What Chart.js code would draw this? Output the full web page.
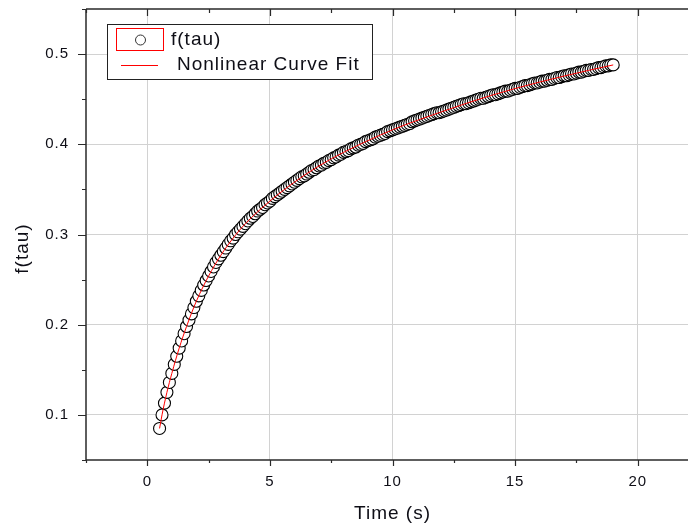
<!DOCTYPE html>
<html>
<head>
<meta charset="utf-8">
<script src="https://cdn.jsdelivr.net/npm/chart.js@4.4.1/dist/chart.umd.min.js"></script>
<style>
  html, body { margin: 0; padding: 0; background: #fff; }
  canvas { display: block; }
</style>
</head>
<body>
<canvas id="chart" width="688" height="527"></canvas>
<script>
const timeValues = [
  0.5, 0.6, 0.7, 0.8, 0.9, 1.0, 1.1, 1.2, 1.3, 1.4, 1.5, 1.6, 1.7, 1.8, 1.9,
  2.0, 2.1, 2.2, 2.3, 2.4, 2.5, 2.6, 2.7, 2.8, 2.9, 3.0, 3.1, 3.2, 3.3, 3.4,
  3.5, 3.6, 3.7, 3.8, 3.9, 4.0, 4.1, 4.2, 4.3, 4.4, 4.5, 4.6, 4.7, 4.8, 4.9,
  5.0, 5.1, 5.2, 5.3, 5.4, 5.5, 5.6, 5.7, 5.8, 5.9, 6.0, 6.1, 6.2, 6.3, 6.4,
  6.5, 6.6, 6.7, 6.8, 6.9, 7.0, 7.1, 7.2, 7.3, 7.4, 7.5, 7.6, 7.7, 7.8, 7.9,
  8.0, 8.1, 8.2, 8.3, 8.4, 8.5, 8.6, 8.7, 8.8, 8.9, 9.0, 9.1, 9.2, 9.3, 9.4,
  9.5, 9.6, 9.7, 9.8, 9.9, 10.0, 10.1, 10.2, 10.3, 10.4, 10.5, 10.6, 10.7, 10.8, 10.9,
  11.0, 11.1, 11.2, 11.3, 11.4, 11.5, 11.6, 11.7, 11.8, 11.9, 12.0, 12.1, 12.2, 12.3, 12.4,
  12.5, 12.6, 12.7, 12.8, 12.9, 13.0, 13.1, 13.2, 13.3, 13.4, 13.5, 13.6, 13.7, 13.8, 13.9,
  14.0, 14.1, 14.2, 14.3, 14.4, 14.5, 14.6, 14.7, 14.8, 14.9, 15.0, 15.1, 15.2, 15.3, 15.4,
  15.5, 15.6, 15.7, 15.8, 15.9, 16.0, 16.1, 16.2, 16.3, 16.4, 16.5, 16.6, 16.7, 16.8, 16.9,
  17.0, 17.1, 17.2, 17.3, 17.4, 17.5, 17.6, 17.7, 17.8, 17.9, 18.0, 18.1, 18.2, 18.3, 18.4,
  18.5, 18.6, 18.7, 18.8, 18.9, 19.0
];
const tauValues = [
  0.085, 0.100, 0.113, 0.125, 0.136, 0.146, 0.156, 0.165, 0.174, 0.182, 0.190, 0.198, 0.205, 0.212, 0.219,
  0.226, 0.232, 0.238, 0.244, 0.249, 0.254, 0.259, 0.264, 0.269, 0.273, 0.277, 0.281, 0.285, 0.289, 0.293,
  0.296, 0.300, 0.303, 0.306, 0.309, 0.312, 0.315, 0.318, 0.320, 0.323, 0.326, 0.328, 0.330, 0.333, 0.335,
  0.337, 0.340, 0.342, 0.344, 0.346, 0.348, 0.350, 0.352, 0.354, 0.356, 0.358, 0.360, 0.362, 0.364, 0.365,
  0.367, 0.369, 0.371, 0.372, 0.374, 0.376, 0.377, 0.379, 0.380, 0.382, 0.383, 0.385, 0.386, 0.388, 0.389,
  0.391, 0.392, 0.393, 0.395, 0.396, 0.397, 0.399, 0.400, 0.401, 0.403, 0.404, 0.405, 0.406, 0.408, 0.409,
  0.410, 0.411, 0.412, 0.414, 0.415, 0.416, 0.417, 0.418, 0.419, 0.420, 0.421, 0.422, 0.423, 0.425, 0.426,
  0.427, 0.428, 0.429, 0.430, 0.431, 0.432, 0.433, 0.434, 0.435, 0.435, 0.436, 0.437, 0.438, 0.439, 0.440,
  0.441, 0.442, 0.443, 0.444, 0.445, 0.445, 0.446, 0.447, 0.448, 0.449, 0.450, 0.451, 0.451, 0.452, 0.453,
  0.454, 0.455, 0.455, 0.456, 0.457, 0.458, 0.459, 0.459, 0.460, 0.461, 0.462, 0.462, 0.463, 0.464, 0.465,
  0.465, 0.466, 0.467, 0.468, 0.468, 0.469, 0.470, 0.470, 0.471, 0.472, 0.472, 0.473, 0.474, 0.474, 0.475,
  0.476, 0.476, 0.477, 0.478, 0.478, 0.479, 0.480, 0.480, 0.481, 0.482, 0.482, 0.483, 0.483, 0.484, 0.485,
  0.485, 0.486, 0.487, 0.487, 0.488, 0.488
];

// Nonlinear curve fit, sampled along the red line
const fitTime  = [0.5, 0.6, 0.8, 1.0, 1.3, 1.6, 2.0, 2.5, 3.0, 3.5, 4.0, 5.0, 6.0, 7.0, 8.0, 10.0, 12.0, 14.0, 16.0, 18.0, 19.0];
const fitValue = [0.085, 0.100, 0.125, 0.146, 0.174, 0.198, 0.226, 0.254, 0.277, 0.296, 0.312, 0.337, 0.358, 0.376, 0.391, 0.416, 0.436, 0.454, 0.469, 0.482, 0.488];

// Axis ticks
const xMajor = [0, 5, 10, 15, 20];
const xMinor = [-2.5, 2.5, 7.5, 12.5, 17.5];
const yMajor = [0.1, 0.2, 0.3, 0.4, 0.5];
const yMinor = [0.05, 0.15, 0.25, 0.35, 0.45, 0.55];

const FONT = "'Liberation Sans', Arial, sans-serif";
const TEXT = '#0e0e16';
const AXIS = '#2a2a2a';
const GRID = '#d2d2d2';
const FIT_RED = '#ff0000';

Chart.defaults.font.family = FONT;
Chart.defaults.color = TEXT;

// Without this Chart.js reserves room for half-labels at the ends of the axes
function noScalePadding(s) {
  s.paddingTop = 0; s.paddingBottom = 0;
  s.paddingLeft = 0; s.paddingRight = 0;
}

// Рамка осей, засечки, подписи осей и легенда в стиле Origin
const frame = {
  id: 'frame',
  beforeLayout(chart) { chart.ctx.letterSpacing = '1px'; },
  beforeDraw(chart) { chart.ctx.letterSpacing = '1px'; },
  afterDraw(chart) {
    const { ctx, chartArea: a, scales: { x, y } } = chart;
    ctx.save();
    ctx.letterSpacing = '1px';

    // axis lines
    ctx.strokeStyle = AXIS;
    ctx.lineWidth = 1.5;
    ctx.beginPath();
    ctx.moveTo(a.left, a.top); ctx.lineTo(a.right, a.top);
    ctx.moveTo(a.left, a.top); ctx.lineTo(a.left, a.bottom); ctx.lineTo(a.right, a.bottom);
    ctx.stroke();

    // tick marks
    ctx.lineWidth = 1.2;
    ctx.beginPath();
    const tickX = (vals, len, lenTop) => vals.forEach(v => {
      const px = Math.round(x.getPixelForValue(v)) + 0.5;
      if (px < a.left - 1 || px > a.right + 1) return;
      ctx.moveTo(px, a.bottom); ctx.lineTo(px, a.bottom + len);
      ctx.moveTo(px, a.top); ctx.lineTo(px, a.top + lenTop);
    });
    tickX(xMajor, 6, 7);
    tickX(xMinor, 3, 4);
    const tickY = (vals, len) => vals.forEach(v => {
      const py = Math.round(y.getPixelForValue(v)) + 0.5;
      ctx.moveTo(a.left, py); ctx.lineTo(a.left - len, py);
    });
    tickY(yMajor, 8);
    tickY(yMinor, 4);
    ctx.stroke();

    // axis titles
    ctx.fillStyle = TEXT;
    ctx.font = '19px ' + FONT;
    ctx.textAlign = 'center';
    ctx.textBaseline = 'middle';
    ctx.fillText('Time (s)', x.getPixelForValue(10), 514);
    ctx.save();
    ctx.translate(23, (a.top + a.bottom) / 2 + 14);
    ctx.rotate(-Math.PI / 2);
    ctx.fillText('f(tau)', 0, 0);
    ctx.restore();

    // legend
    ctx.fillStyle = '#fff';
    ctx.fillRect(107, 24, 266, 56);
    ctx.strokeStyle = '#222';
    ctx.lineWidth = 1;
    ctx.strokeRect(107.5, 24.5, 265, 55);

    ctx.strokeStyle = FIT_RED;
    ctx.strokeRect(116.5, 28.5, 47, 22);
    ctx.strokeStyle = '#333';
    ctx.beginPath();
    ctx.arc(140.5, 40, 5, 0, Math.PI * 2);
    ctx.stroke();

    ctx.strokeStyle = FIT_RED;
    ctx.beginPath();
    ctx.moveTo(121, 65.5); ctx.lineTo(158, 65.5);
    ctx.stroke();

    ctx.fillStyle = TEXT;
    ctx.textAlign = 'left';
    ctx.fillText('f(tau)', 171, 40);
    ctx.fillText('Nonlinear Curve Fit', 177, 65);
    ctx.restore();
  }
};

const points = timeValues.map((t, i) => ({ x: t, y: tauValues[i] }));
const fitPoints = fitTime.map((t, i) => ({ x: t, y: fitValue[i] }));

new Chart(document.getElementById('chart'), {
  type: 'scatter',
  data: {
    datasets: [
      {
        label: 'Nonlinear Curve Fit',
        type: 'line',
        data: fitPoints,
        borderColor: FIT_RED,
        borderWidth: 1,
        pointRadius: 0,
        cubicInterpolationMode: 'monotone',
        fill: false,
        order: 0,
      },
      {
        label: 'f(tau)',
        data: points,
        pointRadius: 6,
        pointBorderWidth: 1.1,
        pointBorderColor: '#000000',
        pointBackgroundColor: '#ffffff',
        order: 1,
      },
    ],
  },
  options: {
    responsive: false,
    animation: false,
    devicePixelRatio: 1,
    layout: { autoPadding: false, padding: { top: 9, left: 0, right: 0, bottom: 0 } },
    plugins: { legend: { display: false }, tooltip: { enabled: false } },
    scales: {
      x: {
        type: 'linear',
        min: -2.5,
        max: 22.05,
        afterBuildTicks: (s) => { s.ticks = xMajor.map(v => ({ value: v })); },
        afterFit: (s) => { s.height = 67; noScalePadding(s); },
        grid: { color: GRID, lineWidth: 1, drawTicks: false },
        border: { display: false },
        ticks: {
          padding: 13,
          color: TEXT,
          font: { size: 15 },
          maxRotation: 0,
          autoSkip: false,
          callback: (v) => String(v),
        },
      },
      y: {
        type: 'linear',
        min: 0.05,
        max: 0.55,
        afterBuildTicks: (s) => { s.ticks = yMajor.map(v => ({ value: v })); },
        afterFit: (s) => { s.width = 86; noScalePadding(s); },
        grid: { color: GRID, lineWidth: 1, drawTicks: false },
        border: { display: false },
        ticks: {
          padding: 17,
          color: TEXT,
          font: { size: 15 },
          autoSkip: false,
          callback: (v) => Number(v).toFixed(1),
        },
      },
    },
  },
  plugins: [frame],
});
</script>
</body>
</html>
